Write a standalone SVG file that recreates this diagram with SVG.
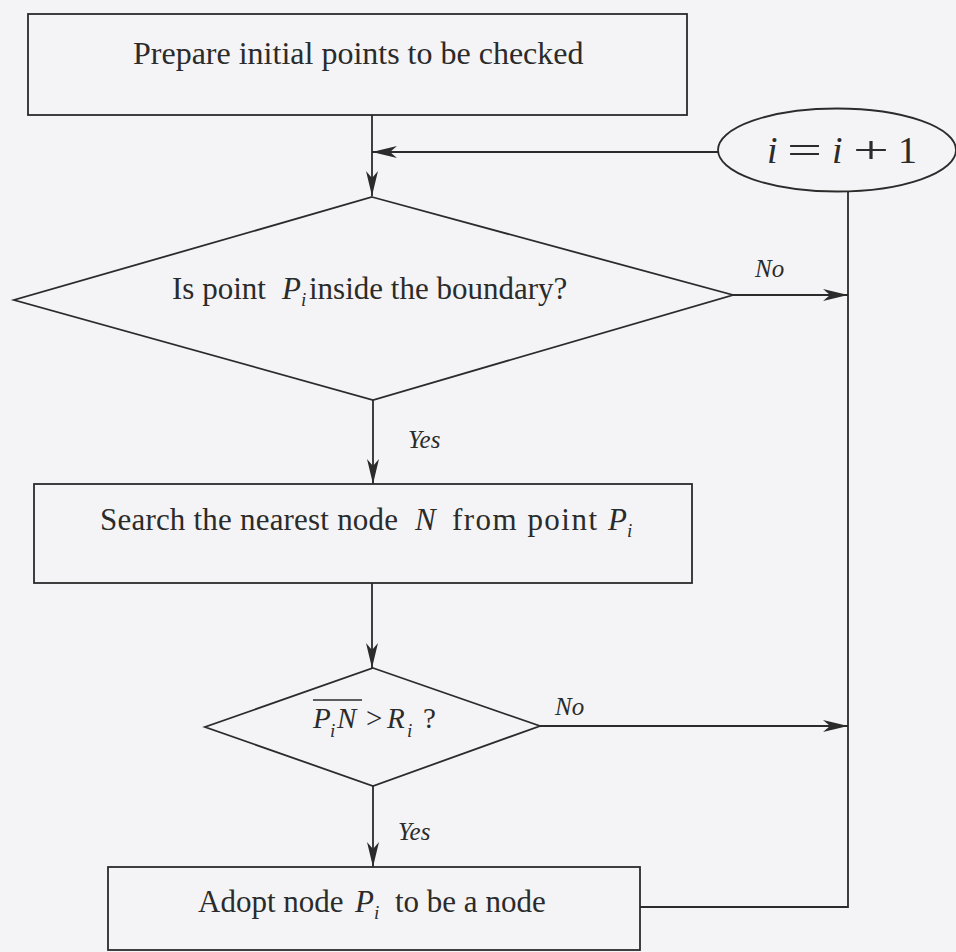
<svg xmlns="http://www.w3.org/2000/svg" width="956" height="952" viewBox="0 0 956 952">
  <style>
    .shape { fill: none; stroke: #2b2b2b; stroke-width: 1.8; }
    .conn { fill: none; stroke: #2b2b2b; stroke-width: 1.8; }
    .t { font-family: "Liberation Serif", "Times New Roman", serif; font-size: 31px; fill: #2b2b2b; }
    .it { font-style: italic; }
    .sub { font-family: "Liberation Serif", "Times New Roman", serif; font-style: italic; font-size: 19px; fill: #2b2b2b; }
    .lbl { font-family: "Liberation Serif", "Times New Roman", serif; font-style: italic; font-size: 25px; fill: #2b2b2b; }
    .eq { font-family: "Liberation Serif", "Times New Roman", serif; font-size: 38px; fill: #2b2b2b; }
  </style>
  <defs>
    <marker id="arrow" viewBox="0 0 25 12" refX="25" refY="6" markerWidth="25" markerHeight="12" orient="auto" markerUnits="userSpaceOnUse">
      <path d="M0,0 L25,6 L0,12 L7,6 Z" fill="#2b2b2b"/>
    </marker>
  </defs>
  <rect x="0" y="0" width="956" height="952" fill="#f4f4f6"/>

  <g id="connectors">
    <line class="conn" x1="372" y1="115" x2="372" y2="196" marker-end="url(#arrow)"/>
    <line class="conn" x1="718" y1="152" x2="372" y2="152" marker-end="url(#arrow)"/>
    <line class="conn" x1="733" y1="295" x2="848" y2="295" marker-end="url(#arrow)"/>
    <line class="conn" x1="373" y1="400" x2="373" y2="484" marker-end="url(#arrow)"/>
    <line class="conn" x1="372" y1="583" x2="372" y2="668" marker-end="url(#arrow)"/>
    <line class="conn" x1="540" y1="726" x2="848" y2="726" marker-end="url(#arrow)"/>
    <line class="conn" x1="373" y1="786" x2="373" y2="867" marker-end="url(#arrow)"/>
    <polyline class="conn" points="640,907 848,907 848,191"/>
    <text class="lbl" x="755" y="277">No</text>
    <text class="lbl" x="408" y="448">Yes</text>
    <text class="lbl" x="555" y="715">No</text>
    <text class="lbl" x="398" y="840">Yes</text>
  </g>

  <g id="node-prepare">
    <rect class="shape" x="28" y="14" width="659" height="101"/>
    <text class="t" x="133" y="64" style="font-size:32px">Prepare initial points to be checked</text>
  </g>

  <g id="node-increment">
    <ellipse class="shape" cx="837" cy="150" rx="119" ry="41.5"/>
    <text class="eq it" x="767" y="163">i</text>
    <text class="eq" x="787" y="163" textLength="35" lengthAdjust="spacingAndGlyphs">=</text>
    <text class="eq it" x="832" y="163">i</text>
    <text class="eq" x="853" y="163" textLength="36" lengthAdjust="spacingAndGlyphs">+</text>
    <text class="eq" x="898" y="163">1</text>
  </g>

  <g id="node-inside">
    <polygon class="shape" points="372,197 733,295 373,400 14,300"/>
    <text class="t" x="172" y="299">Is point</text>
    <text class="t it" x="282" y="299">P</text>
    <text class="sub" x="301" y="306">i</text>
    <text class="t" x="309" y="299">inside the boundary?</text>
  </g>

  <g id="node-search">
    <rect class="shape" x="34" y="484" width="658" height="99"/>
    <text class="t" x="100" y="530" textLength="298" lengthAdjust="spacing">Search the nearest node</text>
    <text class="t it" x="415" y="530">N</text>
    <text class="t" x="452" y="530" textLength="145" lengthAdjust="spacing">from point</text>
    <text class="t it" x="608" y="530">P</text>
    <text class="sub" x="627" y="537">i</text>
  </g>

  <g id="node-distance">
    <polygon class="shape" points="373,668 540,726 373,786 205,727"/>
    <line x1="313" y1="700" x2="362" y2="700" stroke="#2b2b2b" stroke-width="1.5"/>
    <text class="t it" x="313" y="728" style="font-size:29px">P</text>
    <text class="sub" x="330" y="737">i</text>
    <text class="t it" x="337" y="728" style="font-size:29px">N</text>
    <text class="t" x="366" y="728" style="font-size:29px">&gt;</text>
    <text class="t it" x="387" y="728" style="font-size:29px">R</text>
    <text class="sub" x="407" y="737">i</text>
    <text class="t" x="423" y="728" style="font-size:29px">?</text>
  </g>

  <g id="node-adopt">
    <rect class="shape" x="108" y="867" width="532" height="83"/>
    <text class="t" x="198" y="912">Adopt node</text>
    <text class="t it" x="355" y="912">P</text>
    <text class="sub" x="374" y="919">i</text>
    <text class="t" x="395" y="912">to be a node</text>
  </g>
</svg>
